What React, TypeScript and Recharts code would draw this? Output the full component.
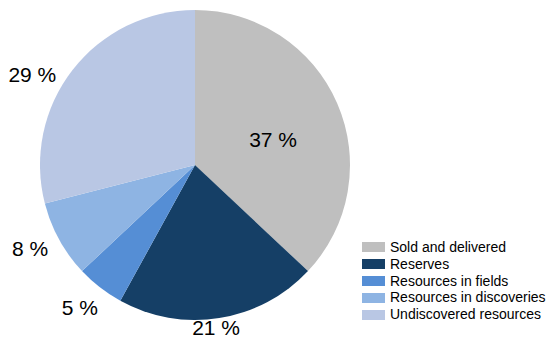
import { PieChart, Pie, Cell, Legend } from "recharts";

const categories = [
  "Sold and delivered",
  "Reserves",
  "Resources in fields",
  "Resources in discoveries",
  "Undiscovered resources",
];
const shares = [37, 21, 5, 8, 29];
const colors = ["#bfbfbf", "#153f66", "#558ed5", "#8eb4e3", "#b9c7e4"];

// label placement around the pie (radius from centre, angle nudge in degrees)
const labelRadius = [82, 164, 183, 185, 186];
const labelShift = [-5.6, -1.6, -1.2, -1.8, 8.8];

const chartData = categories.map((name, i) => ({ name, value: shares[i] }));

const RAD = Math.PI / 180;
const font = "'Liberation Sans', Arial, sans-serif";

function renderLabel(props: any) {
  const { cx, cy, midAngle, index, value } = props;
  const a = (midAngle + labelShift[index]) * RAD;
  const r = labelRadius[index];
  const x = cx + r * Math.cos(a);
  const y = cy - r * Math.sin(a);
  return (
    <text
      x={x}
      y={y}
      fill="#000"
      fontSize={21}
      fontFamily={font}
      textAnchor="middle"
      dominantBaseline="central"
    >
      {`${value} %`}
    </text>
  );
}

function renderLegend() {
  return (
    <div style={{ fontFamily: font, fontSize: 14, color: "#000" }}>
      {categories.map((name, i) => (
        <div
          key={name}
          style={{ display: "flex", alignItems: "center", height: 16.8 }}
        >
          <span
            style={{
              width: 23,
              height: 10,
              background: colors[i],
              marginRight: 5,
              display: "block",
              flexShrink: 0,
            }}
          />
          <span style={{ display: "block", lineHeight: "16.8px", height: 16.8, whiteSpace: "nowrap" }}>
            {name}
          </span>
        </div>
      ))}
    </div>
  );
}

export default function App() {
  return (
    <div style={{ position: "absolute", left: 0, top: 0, background: "#fff" }}>
      <PieChart
        width={553}
        height={345}
        margin={{ top: 0, right: 0, bottom: 0, left: 0 }}
      >
        <Pie
          data={chartData}
          dataKey="value"
          nameKey="name"
          cx={195}
          cy={165}
          outerRadius={155}
          startAngle={90}
          endAngle={-270}
          stroke="none"
          label={renderLabel}
          labelLine={false}
          isAnimationActive={false}
        >
          {chartData.map((entry, index) => (
            <Cell key={`cell-${index}`} fill={colors[index]} />
          ))}
        </Pie>
        <Legend
          content={renderLegend}
          wrapperStyle={{ left: 362, top: 239, width: 190 }}
        />
      </PieChart>
    </div>
  );
}
